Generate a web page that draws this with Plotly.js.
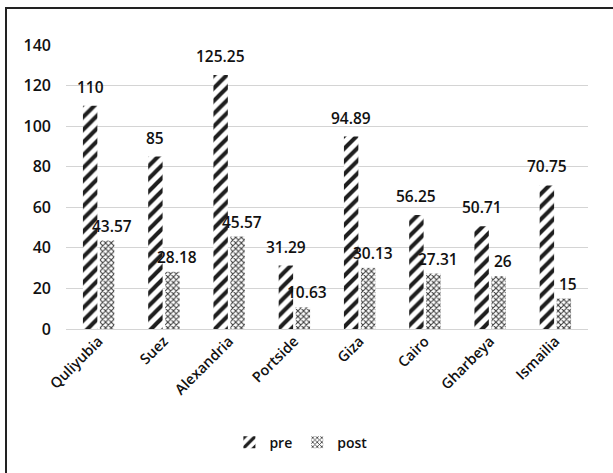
<!DOCTYPE html>
<html>
<head>
<meta charset="utf-8">
<script src="https://cdn.plot.ly/plotly-3.0.1.min.js"></script>
<style>
  html, body { margin: 0; padding: 0; background: #fff; }
  #frame { position: absolute; left: 5px; top: 7px; border-left: 2px solid #222; border-top: 2px solid #222; }
  #chart { width: 608px; height: 466px; }
</style>
</head>
<body>
<div id="frame"><div id="chart"></div></div>
<script>
// Regions and the pre / post values for each one
const regions = ["Quliyubia", "Suez", "Alexandria", "Portside", "Giza", "Cairo", "Gharbeya", "Ismailia"];
const preValues = [110, 85, 125.25, 31.29, 94.89, 56.25, 50.71, 70.75];
const postValues = [43.57, 28.18, 45.57, 10.63, 30.13, 27.31, 26, 15];
const yTicks = [0, 20, 40, 60, 80, 100, 120, 140];

const labelFont = { family: "Open Sans, sans-serif", size: 15.5, color: "#111", weight: 600 };

const pre = {
  type: "bar", name: "pre", x: regions, y: preValues,
  marker: {
    color: "white",
    line: { width: 0 },
    pattern: { shape: "/", fgcolor: "#1e1e1e", bgcolor: "white", size: 9, solidity: 0.45, fillmode: "replace" }
  },
  hoverinfo: "x+y"
};
const post = {
  type: "bar", name: "post", x: regions, y: postValues,
  marker: {
    color: "white",
    line: { width: 0 },
    pattern: { shape: "x", fgcolor: "#3a3a3a", bgcolor: "white", size: 4, solidity: 0.45, fillmode: "replace" }
  },
  hoverinfo: "x+y"
};

// Value labels sitting above each bar
const annotations = [];
regions.forEach((r, i) => {
  annotations.push({ x: r, y: preValues[i], xref: "x", yref: "y", text: String(preValues[i]),
    showarrow: false, xshift: -8.5, yshift: 19, yanchor: "middle", font: labelFont });
  annotations.push({ x: r, y: postValues[i], xref: "x", yref: "y", text: String(postValues[i]),
    showarrow: false, xshift: 13, yshift: 15, yanchor: "middle", font: labelFont });
});

const layout = {
  width: 608, height: 466,
  margin: { l: 59, r: 27, t: 36, b: 146 },
  paper_bgcolor: "white", plot_bgcolor: "white",
  barmode: "group", bargap: 0.48, bargroupgap: 0.15,
  showlegend: true,
  legend: {
    orientation: "h", x: 0.45, xanchor: "center", y: -0.40, yanchor: "middle",
    font: { family: "Open Sans, sans-serif", size: 14, color: "#111", weight: 600 },
    itemwidth: 30, tracegroupgap: 0
  },
  xaxis: {
    type: "category",
    tickangle: -45,
    tickfont: { family: "Open Sans, sans-serif", size: 14.5, color: "#111", weight: 600 },
    showline: false, ticks: "", showgrid: false, zeroline: false
  },
  yaxis: {
    range: [0, 140],
    tickvals: yTicks,
    ticktext: yTicks.map(String),
    tickfont: { family: "Open Sans, sans-serif", size: 16, color: "#111", weight: 600 },
    showgrid: true, gridcolor: "#d4d4d4", gridwidth: 1,
    zeroline: true, zerolinecolor: "#d4d4d4", zerolinewidth: 1,
    showline: false, ticks: "", ticklabelstandoff: 14
  },
  annotations: annotations
};

Plotly.newPlot("chart", [pre, post], layout, { displayModeBar: false, staticPlot: true });
</script>
</body>
</html>
